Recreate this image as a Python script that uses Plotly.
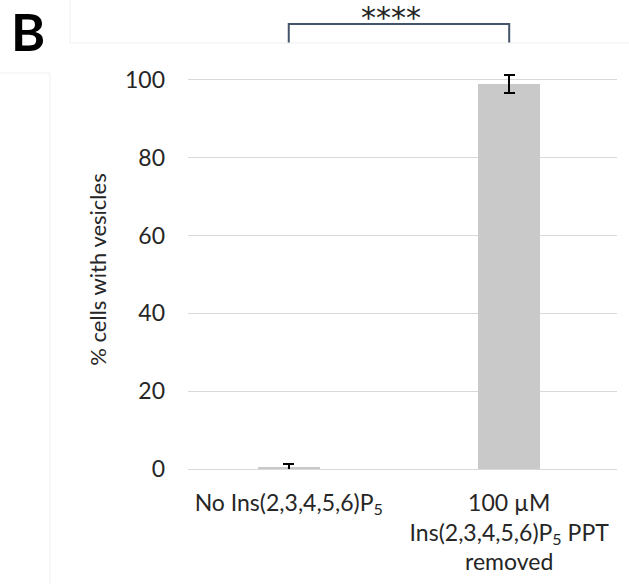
import plotly.graph_objects as go

categories = ["No Ins(2,3,4,5,6)P<sub>5</sub>",
              "100 µM<br>Ins(2,3,4,5,6)P<sub>5</sub> PPT<br>removed"]
values = [0.5, 98.8]
errors = [0.8, 2.3]
y_ticks = [0, 20, 40, 60, 80, 100]
signif = "****"
panel = "B"

W, H = 629, 584
ML, MR, MT, MB = 188, 12, 70, 115
PW, PH = W - ML - MR, H - MT - MB
xpos = list(range(len(categories)))
xr = [-0.457, len(categories) - 1 + 0.489]
yr = [0, 102.5]

def px(xp):
    return (xp - ML) / PW

def py(yp):
    return (H - MB - yp) / PH

FONT = "Lato"
TXT = "#262626"

fig = go.Figure(go.Bar(
    x=xpos, y=values, width=0.28,
    marker=dict(color="#c9c9c9", line=dict(width=0)),
    error_y=dict(type="data", array=errors, visible=True,
                 color="black", thickness=2, width=5.5),
))

shapes = []
# significance bracket
shapes.append(dict(type="path", xref="x", yref="paper",
                   path=f"M {xpos[0]} {py(43)} L {xpos[0]} {py(24)} L {xpos[1]} {py(24)} L {xpos[1]} {py(43)}",
                   line=dict(color="#44546a", width=2)))
# faint frame lines of the source figure
faint = dict(color="#efefef", width=1)
shapes += [
    dict(type="line", xref="paper", yref="paper", x0=px(70), x1=px(70), y0=py(0), y1=py(43), line=faint),
    dict(type="line", xref="paper", yref="paper", x0=px(70), x1=px(629), y0=py(43), y1=py(43), line=faint),
    dict(type="line", xref="paper", yref="paper", x0=px(0), x1=px(50), y0=py(73), y1=py(73), line=faint),
    dict(type="line", xref="paper", yref="paper", x0=px(50), x1=px(50), y0=py(73), y1=py(584), line=faint),
]

annotations = [
    dict(text=signif, xref="x", yref="paper", x=(xpos[0] + xpos[1]) / 2, xshift=-8,
         y=py(17), yanchor="middle", showarrow=False,
         font=dict(family="DejaVu Sans", size=30, color="#262626")),
    dict(text=f"<b>{panel}</b>", xref="paper", yref="paper", x=px(28), y=py(31),
         xanchor="center", yanchor="middle", showarrow=False,
         font=dict(family=FONT, size=52, color="black")),
]

fig.update_layout(
    width=W, height=H,
    margin=dict(l=ML, r=MR, t=MT, b=MB, autoexpand=False),
    paper_bgcolor="white", plot_bgcolor="white",
    showlegend=False,
    bargap=0,
    shapes=shapes, annotations=annotations,
    font=dict(family=FONT, size=23, color=TXT),
)
fig.update_xaxes(range=xr, tickmode="array", tickvals=xpos, ticktext=categories,
                 showgrid=False, zeroline=False, showline=False,
                 ticks="outside", ticklen=13, tickcolor="rgba(0,0,0,0)",
                 tickfont=dict(family=FONT, size=23, color=TXT))
fig.update_yaxes(range=yr, tickmode="array", tickvals=y_ticks,
                 showgrid=True, gridcolor="#d9d9d9", gridwidth=1.3,
                 zeroline=True, zerolinecolor="#d9d9d9", zerolinewidth=1.3,
                 showline=False, ticklabelstandoff=22,
                 tickfont=dict(family=FONT, size=23, color=TXT),
                 title=dict(text="% cells with vesicles", standoff=12,
                            font=dict(family=FONT, size=22, color=TXT)))

fig.write_html("out.html")
